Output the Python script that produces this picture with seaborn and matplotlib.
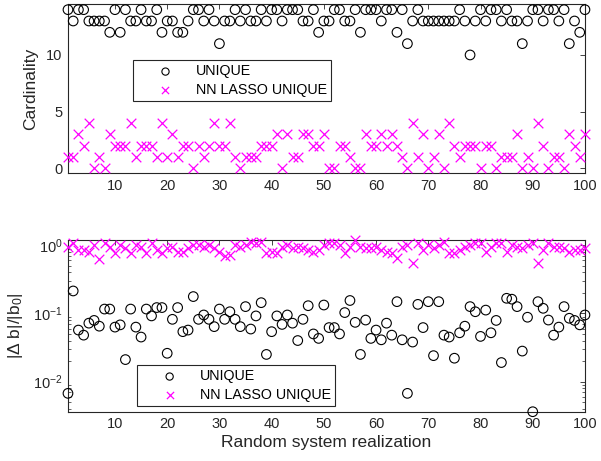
import numpy as np
import pandas as pd
import matplotlib
matplotlib.use("Agg")
import matplotlib.pyplot as plt
import seaborn as sns

realization = np.arange(1, 101)

# cardinality of the recovered support
card_unique = [14, 13, 14, 14, 13, 13, 13, 13, 12, 14,
               12, 14, 13, 13, 14, 13, 13, 14, 12, 13,
               13, 12, 12, 13, 14, 14, 13, 14, 13, 11,
               13, 13, 14, 13, 14, 13, 13, 14, 13, 14,
               14, 13, 14, 14, 14, 13, 13, 14, 12, 13,
               13, 14, 14, 13, 13, 14, 12, 14, 14, 14,
               13, 14, 14, 12, 14, 11, 13, 14, 13, 13,
               13, 13, 13, 13, 13, 14, 13, 10, 13, 14,
               13, 14, 14, 13, 14, 13, 13, 11, 13, 14,
               14, 13, 14, 14, 13, 14, 11, 13, 12, 14]
card_lasso = [1, 1, 3, 2, 4, 0, 1, 0, 3, 2,
              2, 2, 4, 1, 2, 2, 2, 1, 4, 1,
              3, 1, 2, 2, 0, 2, 1, 2, 4, 2,
              2, 4, 1, 0, 1, 1, 1, 2, 2, 2,
              3, 0, 3, 1, 1, 3, 3, 2, 2, 3,
              0, 0, 2, 2, 1, 0, 0, 3, 2, 2,
              3, 2, 3, 2, 1, 0, 4, 1, 3, 0,
              1, 3, 0, 4, 2, 1, 2, 2, 2, 0,
              2, 2, 0, 1, 1, 1, 3, 0, 1, 0,
              4, 2, 0, 1, 1, 0, 3, 2, 1, 3]

# relative error |db|/|b0|
err_unique = [0.0067, 0.214, 0.057, 0.048, 0.072, 0.079, 0.065, 0.116, 0.116, 0.063,
              0.068, 0.021, 0.116, 0.063, 0.045, 0.116, 0.092, 0.122, 0.122, 0.026,
              0.082, 0.122, 0.054, 0.057, 0.177, 0.082, 0.095, 0.082, 0.064, 0.116,
              0.082, 0.106, 0.082, 0.064, 0.126, 0.059, 0.092, 0.144, 0.025, 0.054,
              0.092, 0.069, 0.095, 0.072, 0.040, 0.082, 0.130, 0.050, 0.043, 0.133,
              0.062, 0.062, 0.050, 0.103, 0.155, 0.074, 0.025, 0.080, 0.043, 0.057,
              0.041, 0.072, 0.048, 0.149, 0.041, 0.0067, 0.038, 0.136, 0.062, 0.149,
              0.024, 0.149, 0.048, 0.045, 0.022, 0.052, 0.065, 0.126, 0.106, 0.046,
              0.112, 0.052, 0.079, 0.019, 0.167, 0.162, 0.126, 0.028, 0.088, 0.0036,
              0.149, 0.119, 0.080, 0.048, 0.063, 0.126, 0.085, 0.079, 0.068, 0.095]
err_lasso = [0.96, 1.10, 0.86, 0.86, 0.81, 1.02, 0.63, 1.08, 0.96, 0.77,
             1.02, 0.91, 0.77, 1.02, 0.96, 0.77, 1.08, 0.86, 0.77, 0.91,
             0.96, 0.81, 0.81, 0.91, 1.02, 1.02, 0.96, 1.02, 0.91, 0.81,
             0.69, 0.72, 1.02, 0.96, 1.02, 1.14, 1.08, 1.14, 0.77, 0.81,
             0.77, 0.96, 1.02, 0.91, 0.96, 0.91, 0.86, 0.81, 0.86, 1.02,
             1.08, 1.08, 1.02, 0.77, 0.96, 1.20, 0.96, 0.91, 0.91, 0.96,
             0.86, 0.81, 0.77, 0.65, 0.96, 1.02, 0.56, 1.08, 0.86, 1.02,
             0.91, 1.02, 1.14, 0.77, 0.77, 0.86, 0.96, 1.02, 1.08, 1.08,
             0.81, 0.96, 1.08, 1.08, 0.81, 1.02, 0.96, 0.91, 1.02, 1.08,
             0.56, 0.86, 1.08, 0.96, 0.96, 0.91, 0.81, 0.86, 0.86, 0.91]

sns.set_theme(style="white")
plt.rcParams['font.family'] = ['Liberation Sans', 'DejaVu Sans']
plt.rcParams['mathtext.fontset'] = 'custom'
plt.rcParams['mathtext.rm'] = 'Liberation Sans'
plt.rcParams['mathtext.it'] = 'Liberation Sans:italic'
plt.rcParams['mathtext.default'] = 'regular'

dark = '#262626'
magenta = '#ff00ff'

df_card = pd.DataFrame({'run': realization, 'unique': card_unique, 'lasso': card_lasso})
df_err = pd.DataFrame({'run': realization, 'unique': err_unique, 'lasso': err_lasso})

fig = plt.figure(figsize=(6.01, 4.61), dpi=100)
ax1 = fig.add_axes([0.1131, 0.6241, 0.8602, 0.3672])
ax2 = fig.add_axes([0.1131, 0.1069, 0.8602, 0.3725])


def draw(ax, df):
    sns.scatterplot(data=df, x='run', y='unique', marker='o', s=48,
                    facecolors='none', edgecolor='black', linewidth=0.8,
                    ax=ax, label='UNIQUE', clip_on=False, zorder=3)
    sns.scatterplot(data=df, x='run', y='lasso', marker='x', s=48,
                    color=magenta, linewidth=0.9,
                    ax=ax, label='NN LASSO UNIQUE', clip_on=False, zorder=3)
    ax.set_xlim(1, 100)
    ax.set_xticks(range(10, 101, 10))
    ax.set_xlabel('')
    ax.tick_params(which='major', direction='in', top=True, right=True,
                   length=3.6, width=0.6, colors=dark, labelsize=10.5, pad=4)
    ax.tick_params(which='minor', direction='in', top=False, right=True,
                   left=True, length=2, width=0.5, colors=dark)
    for sp in ax.spines.values():
        sp.set_color(dark)
        sp.set_linewidth(0.8)


def legend(ax, anchor):
    leg = ax.legend(loc='upper left', bbox_to_anchor=anchor, borderaxespad=0,
                    frameon=True, fancybox=False, edgecolor=dark, framealpha=1,
                    fontsize=10.3, handlelength=4.0, handletextpad=0.1,
                    borderpad=0.3, labelspacing=0.3, markerscale=0.75)
    leg.get_frame().set_linewidth(0.8)
    for t in leg.get_texts():
        t.set_color('black')


draw(ax1, df_card)
ax1.set_ylim(-0.45, 14.5)
ax1.set_yticks([0, 5, 10])
ax1.set_ylabel('Cardinality', fontsize=12.5, color=dark)
ax1.yaxis.set_label_coords(-0.058, 0.5)
legend(ax1, (0.125, 0.669))

draw(ax2, df_err)
ax2.set_yscale('log')
ax2.set_ylim(0.0036, 1.2)
ax2.set_ylabel('|Δ b|/|b$_0$|', fontsize=12.5, color=dark)
ax2.yaxis.set_label_coords(-0.083, 0.5)
ax2.set_xlabel('Random system realization', fontsize=12.5, color=dark, labelpad=3)
legend(ax2, (0.133, 0.272))

fig.savefig('out.png', dpi=100)
